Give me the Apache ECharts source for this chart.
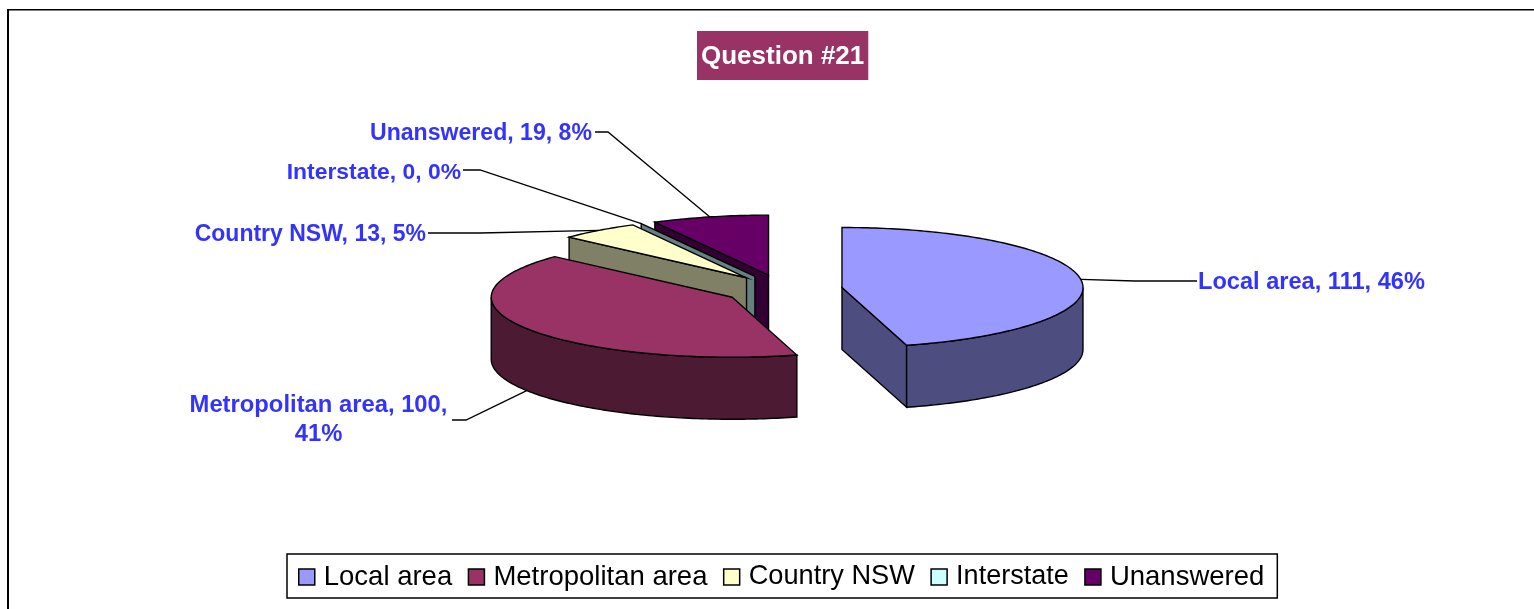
<!DOCTYPE html>
<html>
<head>
<meta charset="utf-8">
<title>Question #21</title>
<style>
    html, body {margin: 0; padding: 0; background: #fff;}
    #chart {width: 1534px; height: 609px;}
</style>
<script src="https://cdn.jsdelivr.net/npm/echarts@6/dist/echarts.min.js"></script>
</head>
<body>
<div id="chart"></div>
<script>
// chart values
const categories = ['Local area', 'Metropolitan area', 'Country NSW', 'Interstate', 'Unanswered'];
const answers = [111, 100, 13, 0, 19];
const topColors = ['#9999FF', '#993366', '#FFFFCC', '#CCFFFF', '#660066'];
const sideColors = ['#4D4D80', '#4D1A33', '#808066', '#668080', '#330033'];
// painter's order, back slices first
const drawOrder = [4, 3, 2, 1, 0];

// pie geometry, pixels
const pieCenter = [783, 289.5];
const radiusX = 241;
const radiusY = 60;
const pieDepth = 62;
const explode = 0.247;

// leader line elbow and label anchor for each category
const labelLayout = [
    {elbow: [1135, 281], end: [1197, 281], at: [1198, 282], align: 'left', size: 23.6},
    {elbow: [466, 420], end: [452, 420], at: [318.5, 420], align: 'center', size: 23.8, wrap: true},
    {elbow: [480, 233], end: [428, 233], at: [426, 235], align: 'right', size: 23},
    {elbow: [480, 170], end: [463, 170], at: [461, 173], align: 'right', size: 22.9},
    {elbow: [608, 132], end: [595, 132], at: [592, 134], align: 'right', size: 23.1}
];
const legendSizes = [27.5, 27.5, 27.2, 27, 27.5];

const total = answers.reduce((sum, v) => sum + v, 0);
const toRad = Math.PI / 180;

// start and end angle of each slice, clockwise from 12 o'clock
let running = 0;
const slices = answers.map((v) => {
    const from = running / total * 360;
    running += v;
    const to = running / total * 360;
    const mid = (from + to) / 2;
    return {
        from: from,
        to: to,
        mid: mid,
        apex: [
            pieCenter[0] + explode * radiusX * Math.sin(mid * toRad),
            pieCenter[1] - explode * radiusY * Math.cos(mid * toRad)
        ]
    };
});

function rim(slice, deg, drop) {
    return [
        slice.apex[0] + radiusX * Math.sin(deg * toRad),
        slice.apex[1] - radiusY * Math.cos(deg * toRad) + (drop || 0)
    ];
}

function arcPoints(slice, from, to, drop) {
    const steps = Math.max(1, Math.ceil(to - from));
    const points = [];
    for (let i = 0; i <= steps; i++) {
        points.push(rim(slice, from + (to - from) * i / steps, drop));
    }
    return points;
}

function facePolygon(points, fill) {
    return {
        type: 'polygon',
        shape: {points: points},
        style: {fill: fill, stroke: '#000', lineWidth: 1.4}
    };
}

function labelText(i) {
    const pct = Math.round(answers[i] / total * 100);
    const sep = labelLayout[i].wrap ? ',\n' : ', ';
    return categories[i] + ', ' + answers[i] + sep + pct + '%';
}

function renderSlice(i) {
    const slice = slices[i];
    const layout = labelLayout[i];
    const side = sideColors[i];
    const down = (p) => [p[0], p[1] + pieDepth];
    const children = [];

    // flat cut faces that turn towards the viewer
    if (Math.sin(slice.from * toRad) < 0) {
        const p = rim(slice, slice.from);
        children.push(facePolygon([slice.apex, p, down(p), down(slice.apex)], side));
    }
    if (Math.sin(slice.to * toRad) > 0) {
        const p = rim(slice, slice.to);
        children.push(facePolygon([slice.apex, p, down(p), down(slice.apex)], side));
    }
    // curved outer wall, front half only
    const wallFrom = Math.max(slice.from, 90);
    const wallTo = Math.min(slice.to, 270);
    if (wallTo > wallFrom) {
        const upper = arcPoints(slice, wallFrom, wallTo, 0);
        const lower = arcPoints(slice, wallFrom, wallTo, pieDepth).reverse();
        children.push(facePolygon(upper.concat(lower), side));
    }
    // top face
    if (slice.to > slice.from) {
        children.push(facePolygon([slice.apex].concat(arcPoints(slice, slice.from, slice.to, 0)), topColors[i]));
    }
    // leader line, metropolitan hits the front wall
    const onWall = slice.mid > 90 && slice.mid < 270;
    children.push({
        type: 'polyline',
        shape: {points: [rim(slice, slice.mid, onWall ? pieDepth : 0), layout.elbow, layout.end]},
        style: {fill: null, stroke: '#000', lineWidth: 1.3}
    });
    children.push({
        type: 'text',
        style: {
            x: layout.at[0],
            y: layout.at[1],
            text: labelText(i),
            align: layout.align,
            verticalAlign: 'middle',
            lineHeight: 29,
            fill: '#3333FF',
            font: 'bold ' + layout.size + 'px "Liberation Sans", Arial, sans-serif'
        }
    });
    return {type: 'group', children: children};
}

const series = drawOrder.map((i, order) => {
    return {
        type: 'custom',
        name: categories[i],
        coordinateSystem: 'none',
        z: 2 + order,
        silent: true,
        animation: false,
        itemStyle: {color: topColors[i]},
        data: [answers[i]],
        renderItem: () => renderSlice(i)
    };
});

const option = {
    animation: false,
    title: {
        text: 'Question #21',
        left: 697,
        top: 31,
        padding: [12.5, 4, 10.5, 4],
        backgroundColor: '#993366',
        textStyle: {
            color: '#fff',
            fontFamily: '"Liberation Sans", Arial, sans-serif',
            fontWeight: 'bold',
            fontSize: 26
        }
    },
    legend: {
        data: categories.map((name, i) => {
            return {name: name, textStyle: {fontSize: legendSizes[i]}};
        }),
        left: 287,
        top: 554,
        padding: [8, 13, 6, 11],
        itemGap: 15.5,
        itemWidth: 16,
        itemHeight: 16,
        icon: 'rect',
        borderColor: '#000',
        borderWidth: 1.5,
        selectedMode: false,
        itemStyle: {borderColor: '#000', borderWidth: 1.5},
        textStyle: {
            color: '#000',
            fontFamily: '"Liberation Sans", Arial, sans-serif',
            lineHeight: 30,
            padding: [0, 0, 0, 4]
        }
    },
    graphic: [
        {type: 'rect', silent: true, shape: {x: 7, y: 9, width: 1527, height: 1.5}, style: {fill: '#000'}},
        {type: 'rect', silent: true, shape: {x: 7, y: 9, width: 2, height: 600}, style: {fill: '#000'}}
    ],
    series: series
};

const el = echarts.init(document.getElementById('chart'), null, {renderer: 'canvas'});
el.setOption(option);
</script>
</body>
</html>
